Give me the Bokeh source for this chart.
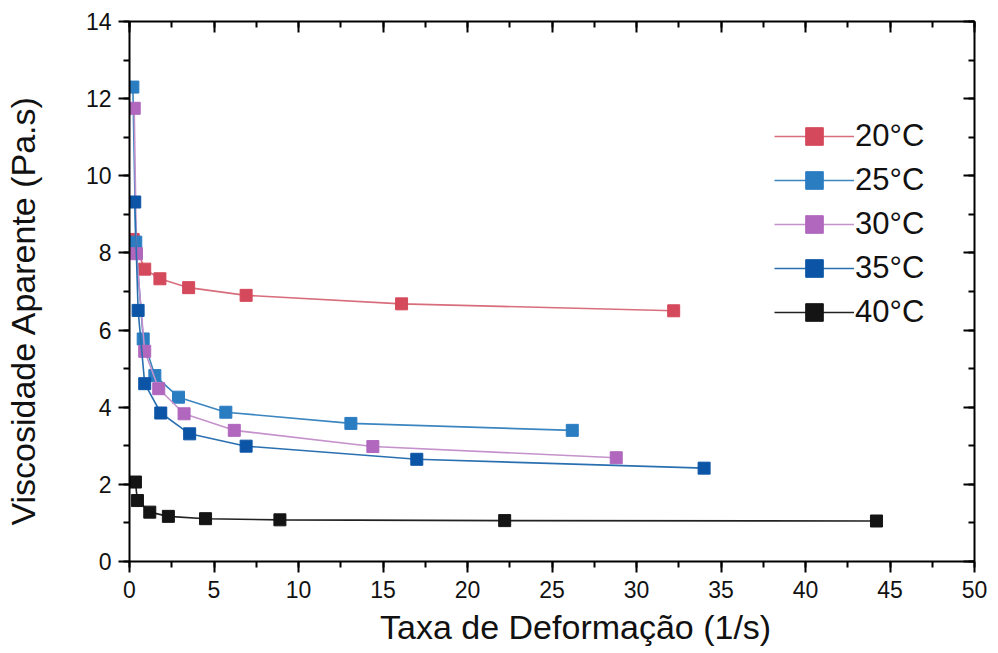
from bokeh.plotting import figure
from bokeh.models import (Range1d, LinearAxis, SingleIntervalTicker,
                          Legend, LegendItem, CustomJSTickFormatter)
from bokeh.embed import file_html
from bokeh.resources import INLINE

# ---- data ----
series_names = ["20°C", "25°C", "30°C", "35°C", "40°C"]

shear_20 = [0.22, 0.9, 1.8, 3.5, 6.9, 16.1, 32.2]
visc_20 = [8.35, 7.58, 7.33, 7.10, 6.90, 6.68, 6.50]

shear_25 = [0.20, 0.37, 0.81, 1.5, 2.9, 5.7, 13.1, 26.2]
visc_25 = [12.30, 8.28, 5.77, 4.82, 4.26, 3.87, 3.58, 3.40]

shear_30 = [0.28, 0.41, 0.9, 1.73, 3.23, 6.2, 14.4, 28.8]
visc_30 = [11.75, 7.98, 5.45, 4.48, 3.83, 3.40, 2.98, 2.69]

shear_35 = [0.31, 0.51, 0.9, 1.85, 3.56, 6.9, 17.0, 34.0]
visc_35 = [9.32, 6.51, 4.61, 3.85, 3.31, 2.99, 2.65, 2.42]

shear_40 = [0.35, 0.47, 1.2, 2.3, 4.5, 8.9, 22.2, 44.2]
visc_40 = [2.06, 1.58, 1.28, 1.17, 1.11, 1.08, 1.06, 1.05]

x_label = "Taxa de Deformação (1/s)"
y_label = "Viscosidade Aparente (Pa.s)"

marker_colors = ["#d4495b", "#2b7dc2", "#b067bd", "#0c55a6", "#141414"]
line_colors = ["#d86e7c", "#3b86c0", "#c592cc", "#2a70b0", "#222222"]

FONT = "Liberation Sans"
NB = "\u00a0"

p = figure(width=990, height=653, x_range=Range1d(0, 50), y_range=Range1d(0, 14),
           output_backend="svg", toolbar_location=None,
           min_border_left=128, min_border_right=16, min_border_top=21,
           min_border_bottom=92)
p.xgrid.visible = False
p.ygrid.visible = False
p.outline_line_color = None
p.background_fill_color = "white"
p.border_fill_color = "white"

xt = SingleIntervalTicker(interval=5, num_minor_ticks=2)
yt = SingleIntervalTicker(interval=2, num_minor_ticks=2)


def style_axis(ax, inward=False):
    ax.axis_line_width = 2
    ax.axis_line_color = "black"
    ax.major_tick_line_width = 2
    ax.minor_tick_line_width = 2
    ax.major_tick_line_color = "black"
    ax.minor_tick_line_color = "black"
    if inward:
        ax.major_tick_in = 11
        ax.major_tick_out = 0
        ax.minor_tick_in = 6
        ax.minor_tick_out = 0
        ax.formatter = CustomJSTickFormatter(code="return ''")
        ax.major_label_text_font_size = "0px"
        ax.major_label_standoff = 0
    else:
        ax.major_tick_in = 0
        ax.major_tick_out = 11
        ax.minor_tick_in = 0
        ax.minor_tick_out = 6
        ax.major_label_text_font = FONT
        ax.major_label_text_font_size = "23px"
        ax.major_label_text_color = "#111111"
        ax.axis_label_text_font = FONT
        ax.axis_label_text_font_size = "34px"
        ax.axis_label_text_font_style = "normal"
        ax.axis_label_text_color = "#111111"


p.xaxis.ticker = xt
p.yaxis.ticker = yt
style_axis(p.xaxis[0])
style_axis(p.yaxis[0])
p.xaxis.major_label_standoff = 8
p.yaxis.major_label_standoff = 7
# leading / trailing no-break spaces shift the centred labels as in the reference
p.xaxis.axis_label = NB * 5 + x_label
p.yaxis.axis_label = y_label + NB * 4
p.xaxis.axis_label_standoff = 7
p.yaxis.axis_label_standoff = 41

top_ax = LinearAxis(ticker=SingleIntervalTicker(interval=5, num_minor_ticks=2))
style_axis(top_ax, inward=True)
p.add_layout(top_ax, "above")
right_ax = LinearAxis(ticker=SingleIntervalTicker(interval=2, num_minor_ticks=2))
style_axis(right_ax, inward=True)
p.add_layout(right_ax, "right")

xs = [shear_20, shear_25, shear_30, shear_35, shear_40]
ys = [visc_20, visc_25, visc_30, visc_35, visc_40]
items = []
for name, x, y, mc, lc in zip(series_names, xs, ys, marker_colors, line_colors):
    ln = p.line(x, y, line_color=lc, line_width=1.6)
    sc = p.scatter(x, y, marker="square", size=12, fill_color=mc, line_color=mc,
                   line_width=1)
    items.append(LegendItem(label=name, renderers=[ln, sc]))

legend = Legend(items=items, location=(645, 227), glyph_width=80, glyph_height=44,
                label_height=44, spacing=0, padding=0, margin=0, label_standoff=1,
                border_line_color=None, background_fill_alpha=0,
                label_text_font=FONT, label_text_font_size="31px",
                label_text_color="#111111")
p.add_layout(legend)

open("out.html", "w").write(file_html(p, INLINE))
